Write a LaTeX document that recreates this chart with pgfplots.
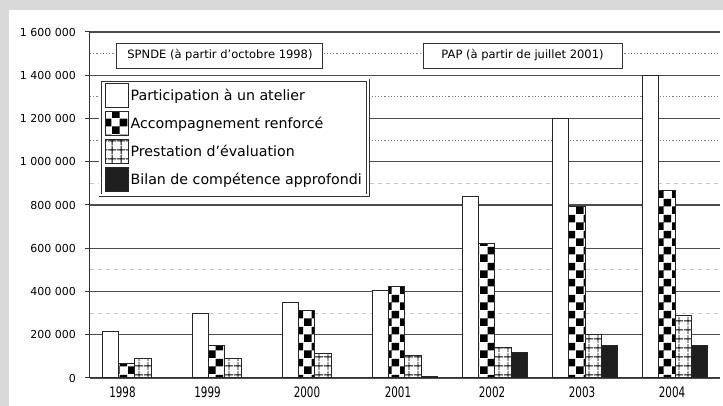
\documentclass[border=0pt]{standalone}
\usepackage{graphicx}
\usepackage{fontspec}
\setmainfont{DejaVu Sans}
\usepackage{pgfplots}
\pgfplotsset{compat=1.18}
\usetikzlibrary{patterns}

% checkerboard with 4pt cells
\pgfdeclarepatternformonly{bigchecker}{\pgfqpoint{0pt}{0pt}}{\pgfqpoint{8pt}{8pt}}{\pgfqpoint{8pt}{8pt}}{%
  \pgfpathrectangle{\pgfqpoint{0pt}{0pt}}{\pgfqpoint{4pt}{4pt}}%
  \pgfpathrectangle{\pgfqpoint{4pt}{4pt}}{\pgfqpoint{4pt}{4pt}}%
  \pgfusepath{fill}}
% open square grid
\pgfdeclarepatternformonly{widegrid}{\pgfqpoint{0pt}{0pt}}{\pgfqpoint{4.5pt}{4.5pt}}{\pgfqpoint{4.5pt}{4.5pt}}{%
  \pgfsetlinewidth{0.45pt}%
  \pgfpathmoveto{\pgfqpoint{2.25pt}{0pt}}\pgfpathlineto{\pgfqpoint{2.25pt}{4.5pt}}%
  \pgfpathmoveto{\pgfqpoint{0pt}{2.25pt}}\pgfpathlineto{\pgfqpoint{4.5pt}{2.25pt}}%
  \pgfusepath{stroke}}

\newcommand\yr[1]{\scalebox{0.72}[1]{\fontsize{7.2}{8}\selectfont #1}}

\begin{document}
\begin{tikzpicture}
% page background and white sheet
\fill[black!15] (-45pt,-14pt) rectangle (316.5pt,189pt);
\fill[white] (-40.5pt,-14pt) rectangle (316.5pt,184pt);
\useasboundingbox (-45pt,-14pt) rectangle (316.5pt,189pt);
\begin{axis}[
  at={(0pt,0pt)}, anchor=south west,
  scale only axis, width=315pt, height=173pt,
  xmin=-0.5, xmax=6.5, ymin=0, ymax=1600000,
  ybar=0pt, bar width=0.1833,
  axis x line*=bottom, axis y line*=left,
  axis line style={black!80, line width=0.5pt},
  tick align=outside,
  scaled y ticks=false,
  ytick={0,200000,400000,600000,800000,1000000,1200000,1400000,1600000},
  yticklabels={0,200 000,400 000,600 000,800 000,1 000 000,1 200 000,1 400 000,1 600 000},
  yticklabel style={font=\fontsize{5.5}{6}\selectfont, xshift=-1pt},
  ytick style={black!80, line width=0.5pt},
  major tick length=2.5pt,
  ymajorgrids,
  major grid style={black!70, line width=0.55pt},
  minor ytick={300000,500000,900000},
  yminorgrids,
  minor tick length=0pt,
  minor grid style={black!22, line width=0.6pt, dash pattern=on 2.2pt off 1.8pt},
  extra y ticks={1100000,1300000,1500000},
  extra y tick labels={},
  extra y tick style={major tick length=0pt, ymajorgrids=true,
    major grid style={black!50, line width=0.5pt, dash pattern=on 0.6pt off 1pt}},
  xtick={-0.139,0.806,1.911,2.922,3.967,4.967,5.967},
  xticklabels={\yr{1998},\yr{1999},\yr{2000},\yr{2001},\yr{2002},\yr{2003},\yr{2004}},
  xtick style={draw=none},
  xticklabel style={yshift=-0.5pt, inner sep=1pt},
  extra x ticks={-0.5,0.5,1.5,2.5,3.5,4.5,5.5,6.5},
  extra x tick labels={},
  extra x tick style={major tick length=2pt, xtick style={black!80, line width=0.5pt}},
  every axis plot post/.append style={
    legend image code/.code={\draw[##1] (0pt,-6pt) rectangle (11.5pt,6pt);}},
  legend style={at={(axis description cs:0.0159,0.861)}, anchor=north west,
    draw=black!80, line width=0.4pt, double=white, double distance=1pt,
    font=\fontsize{7.1}{8.5}\selectfont, row sep=1.5pt,
    inner xsep=2.5pt, inner ysep=1.5pt, nodes={inner sep=0.6pt},
    /tikz/every even column/.append style={column sep=0pt}},
  legend cell align=left,
]
\addplot[draw=black!85, line width=0.5pt, fill=white]
  coordinates {(0,215000) (1,300000) (2,350000) (3,405000) (4,837000) (5,1200000) (6,1400000)};
\addlegendentry{Participation à un atelier\hspace{3pt}}
\addplot[draw=black!85, line width=0.5pt, fill=white, postaction={pattern=bigchecker}]
  coordinates {(0,68000) (1,152000) (2,314000) (3,421000) (4,624000) (5,795000) (6,865000)};
\addlegendentry{Accompagnement renforcé}
\addplot[draw=black!85, line width=0.5pt, fill=white, postaction={pattern=widegrid}]
  coordinates {(0,88000) (1,92000) (2,115000) (3,106000) (4,139000) (5,199000) (6,291000)};
\addlegendentry{Prestation d'évaluation}
\addplot[draw=black!85, line width=0.5pt, fill=black!88]
  coordinates {(3,5000) (4,116000) (5,148000) (6,148000)};
\addlegendentry{Bilan de compétence approfondi\hspace{3pt}}

\node[draw=black!80, line width=0.5pt, fill=white, minimum width=103pt, minimum height=12.5pt,
  inner sep=0pt, font=\fontsize{5.75}{6}\selectfont]
  at (axis cs:0.944,1491000) {SPNDE (à partir d'octobre 1998)};
\node[draw=black!80, line width=0.5pt, fill=white, minimum width=99.5pt, minimum height=12.5pt,
  inner sep=0pt, font=\fontsize{5.75}{6}\selectfont]
  at (axis cs:4.306,1491000) {PAP (à partir de juillet 2001)};
\end{axis}
\end{tikzpicture}
\end{document}
